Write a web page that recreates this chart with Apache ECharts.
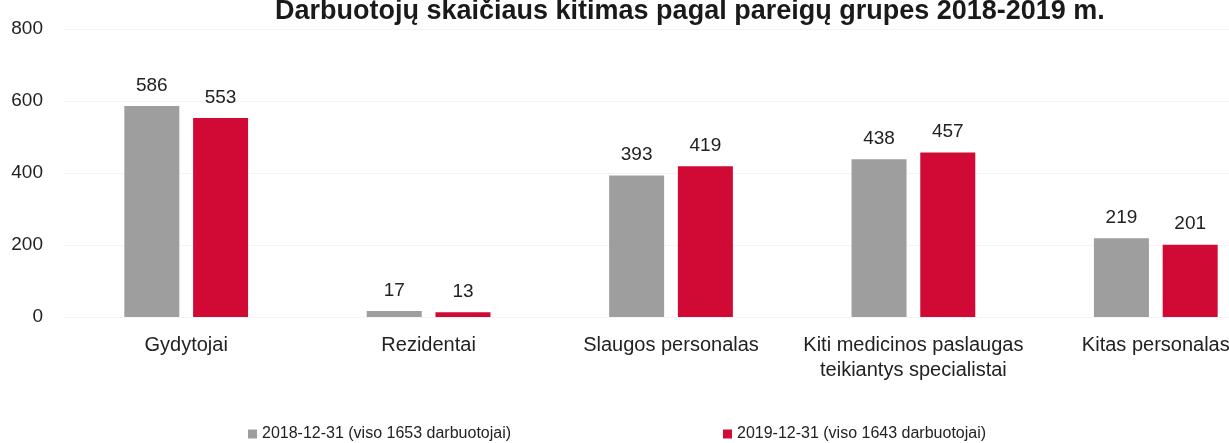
<!DOCTYPE html>
<html>
<head>
<meta charset="utf-8">
<script src="https://cdn.jsdelivr.net/npm/echarts@6/dist/echarts.min.js"></script>
<style>html,body{margin:0;padding:0;background:#fff;}#c{width:1229px;height:443px;}</style>
</head>
<body>
<div id="c"></div>
<script>
const title = 'Darbuotojų skaičiaus kitimas pagal pareigų grupes 2018-2019 m.';
const categories = ['Gydytojai', 'Rezidentai', 'Slaugos personalas', 'Kiti medicinos paslaugas\nteikiantys specialistai', 'Kitas personalas'];
const seriesNames = ['2018-12-31 (viso 1653 darbuotojai)', '2019-12-31 (viso 1643 darbuotojai)'];
const values2018 = [586, 17, 393, 438, 219];
const values2019 = [553, 13, 419, 457, 201];
const yTicks = { min: 0, max: 800, interval: 200 };

const FONT = 'Liberation Sans, Arial, sans-serif';
const chart = echarts.init(document.getElementById('c'), null, { renderer: 'canvas' });
const labelStyle = { show: true, position: 'top', distance: 11, color: '#222', fontSize: 19, fontFamily: FONT };
chart.setOption({
  backgroundColor: '#ffffff',
  animation: false,
  title: {
    text: title, left: 270, top: -7,
    textStyle: { fontFamily: FONT, fontSize: 27, fontWeight: 'bold', color: '#1a1a1a' }
  },
  legend: [
    { data: [seriesNames[0]], left: 243, top: 421, icon: 'rect', itemWidth: 9, itemHeight: 9, itemGap: 5,
      textStyle: { fontFamily: FONT, fontSize: 16, color: '#222' } },
    { data: [seriesNames[1]], left: 718, top: 421, icon: 'rect', itemWidth: 9, itemHeight: 9, itemGap: 5,
      textStyle: { fontFamily: FONT, fontSize: 16, color: '#222' } }
  ],
  grid: { left: 65, top: 29, width: 1212, height: 288, containLabel: false, outerBoundsMode: 'none' },
  xAxis: {
    type: 'category', data: categories,
    axisLine: { show: false }, axisTick: { show: false },
    axisLabel: { interval: 0, margin: 16, color: '#222', fontSize: 20, fontFamily: FONT, lineHeight: 25 }
  },
  yAxis: {
    type: 'value', min: yTicks.min, max: yTicks.max, interval: yTicks.interval,
    axisLine: { show: false }, axisTick: { show: false },
    splitLine: { show: true, lineStyle: { color: '#f4f4f4' } },
    axisLabel: { margin: 22, color: '#222', fontSize: 19, fontFamily: FONT }
  },
  series: [
    { name: seriesNames[0], type: 'bar', data: values2018, barWidth: 55, barGap: '25%',
      itemStyle: { color: '#9d9e9d' }, label: labelStyle },
    { name: seriesNames[1], type: 'bar', data: values2019, barWidth: 55, barGap: '25%',
      itemStyle: { color: '#d10a35' }, label: labelStyle }
  ]
});
</script>
</body>
</html>
